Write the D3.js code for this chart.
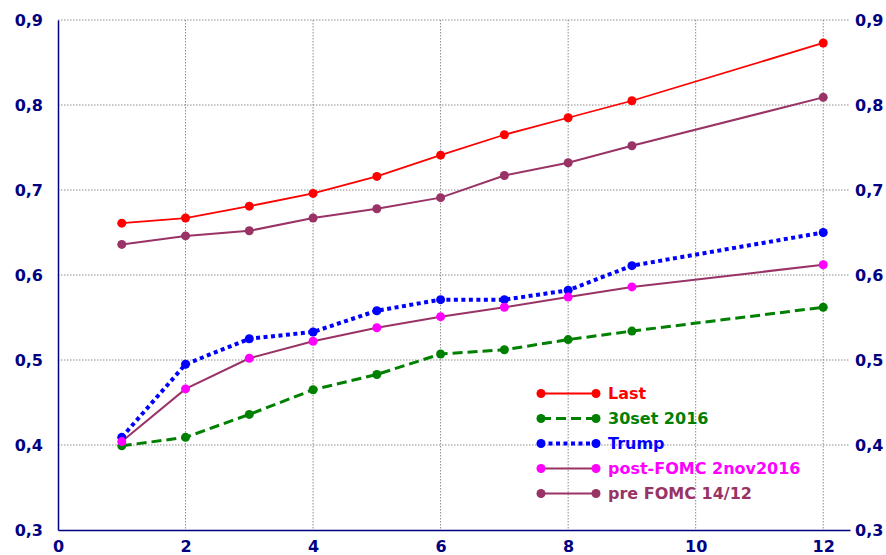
<!DOCTYPE html>
<html><head><meta charset="utf-8">
<script src="https://cdn.jsdelivr.net/npm/d3@7"></script>
<style>body{margin:0;background:#fff}svg{display:block}</style>
</head><body>
<svg id="c" width="886" height="555"></svg>
<script>
const xs = [1,2,3,4,5,6,7,8,9,12];
const last      = [0.661,0.667,0.681,0.696,0.716,0.741,0.765,0.785,0.805,0.873];
const set2016   = [0.399,0.409,0.436,0.465,0.483,0.507,0.512,0.524,0.534,0.562];
const trump     = [0.409,0.495,0.525,0.533,0.558,0.571,0.571,0.582,0.611,0.650];
const postFomc  = [0.404,0.466,0.502,0.522,0.538,0.551,0.562,0.574,0.586,0.612];
const preFomc   = [0.636,0.646,0.652,0.667,0.678,0.691,0.717,0.732,0.752,0.809];
const xTicks = [0,2,4,6,8,10,12];
const yTicks = [0.3,0.4,0.5,0.6,0.7,0.8,0.9];
const seriesNames = ["Last","30set 2016","Trump","post-FOMC 2nov2016","pre FOMC 14/12"];

const series = [
  {name:seriesNames[0], vals:last, line:"#FF0000", dot:"#FF0000", w:1.8, dash:null},
  {name:seriesNames[1], vals:set2016, line:"#008000", dot:"#008000", w:3, dash:"10,5"},
  {name:seriesNames[2], vals:trump, line:"#0000FF", dot:"#0000FF", w:4, dash:"4,3.5"},
  {name:seriesNames[3], vals:postFomc, line:"#993366", dot:"#FF00FF", w:2, dash:null},
  {name:seriesNames[4], vals:preFomc, line:"#993366", dot:"#993366", w:2, dash:null}
];

const svg = d3.select("#c");
const L=58, R=850, T=20, B=530;
const x = d3.scaleLinear().domain([0,12.42]).range([L,R]);
const y = d3.scaleLinear().domain([0.3,0.9]).range([B,T]);
const fmt = d => d3.format(".1f")(d).replace(".",",");
const navy="#000080";

// grid
const g = svg.append("g");
g.selectAll("line.h").data(yTicks.filter(d=>d>0.3)).join("line")
  .attr("x1",L).attr("x2",R).attr("y1",d=>y(d)).attr("y2",d=>y(d))
  .attr("stroke","#8c8c8c").attr("stroke-width",1).attr("stroke-dasharray","1.5,1.5");
g.selectAll("line.v").data(xTicks.filter(d=>d>0)).join("line")
  .attr("y1",T).attr("y2",B).attr("x1",d=>x(d)).attr("x2",d=>x(d))
  .attr("stroke","#8c8c8c").attr("stroke-width",1).attr("stroke-dasharray","1.5,1.5");

// axes
const lab = {"font-family":"DejaVu Sans","font-weight":"bold","font-size":"16px","fill":navy};
const yl = d3.axisLeft(y).tickValues(yTicks).tickFormat(fmt).tickSize(0).tickPadding(14);
const ya = svg.append("g").attr("transform",`translate(${L},0)`).call(yl);
ya.select(".domain").attr("stroke",navy).attr("stroke-width",1.5);
const yr = d3.axisRight(y).tickValues(yTicks).tickFormat(fmt).tickSize(0).tickPadding(5);
const yra = svg.append("g").attr("transform",`translate(${R},0)`).call(yr);
yra.select(".domain").remove();
const xa = svg.append("g").attr("transform",`translate(0,${B})`)
  .call(d3.axisBottom(x).tickValues(xTicks).tickSize(0).tickPadding(11));
xa.select(".domain").attr("stroke",navy).attr("stroke-width",1.5);
[ya,yra,xa].forEach(a=>a.selectAll("text").each(function(){
  const s=d3.select(this); for(const k in lab) s.attr(k,lab[k]); }));
ya.selectAll("text").attr("dx",-1);

// lines
const line = d3.line().x((d,i)=>x(xs[i])).y(d=>y(d));
series.forEach(s=>{
  svg.append("path").attr("d",line(s.vals)).attr("fill","none")
    .attr("stroke",s.line).attr("stroke-width",s.w)
    .attr("stroke-dasharray",s.dash);
});
series.forEach(s=>{
  svg.append("g").selectAll("circle").data(s.vals).join("circle")
    .attr("cx",(d,i)=>x(xs[i])).attr("cy",d=>y(d)).attr("r",4.5).attr("fill",s.dot);
});

// legend
const lg = svg.append("g");
series.forEach((s,i)=>{
  const yy = 393.5 + i*25;
  lg.append("line").attr("x1",541).attr("x2",596).attr("y1",yy).attr("y2",yy)
    .attr("stroke",s.line).attr("stroke-width",s.w).attr("stroke-dasharray",s.dash);
  lg.append("circle").attr("cx",541).attr("cy",yy).attr("r",4.5).attr("fill",s.dot);
  lg.append("circle").attr("cx",596).attr("cy",yy).attr("r",4.5).attr("fill",s.dot);
  lg.append("text").attr("x",608).attr("y",yy).attr("dy","0.35em")
    .attr("font-family","DejaVu Sans").attr("font-weight","bold").attr("font-size","16px")
    .attr("fill",s.dot).text(s.name);
});
</script>
</body></html>
